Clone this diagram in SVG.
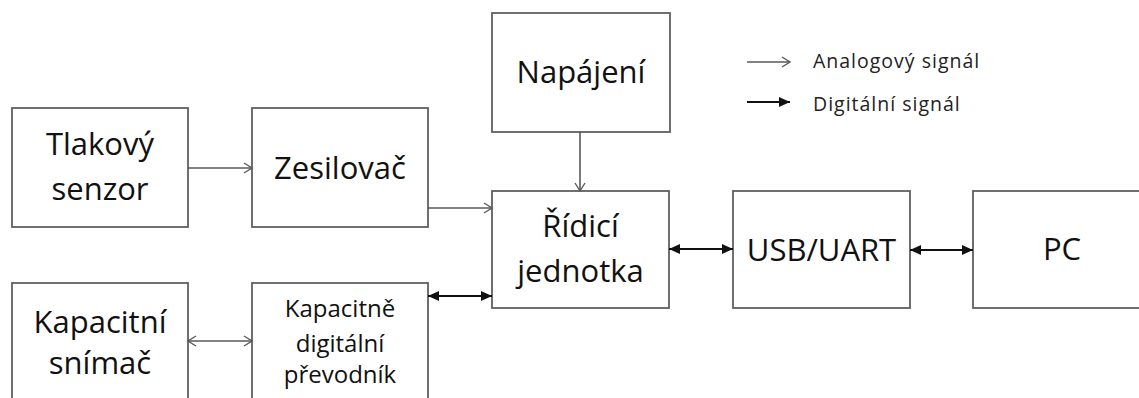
<svg xmlns="http://www.w3.org/2000/svg" width="1139" height="398" viewBox="0 0 1139 398">
<style>
.box{fill:#fff;stroke:#606060;stroke-width:1.8}
.t{font-family:"Open Sans","Noto Sans",sans-serif;font-size:31px;fill:#111;text-anchor:middle}
.ts{font-size:24px}
.lg{font-family:"Open Sans","Noto Sans",sans-serif;font-size:19.5px;fill:#222;letter-spacing:1px}
.an{stroke:#595959;stroke-width:1.6;fill:none}
.dg{stroke:#111;stroke-width:2;fill:none}
</style>
<defs>
<marker id="ao" markerUnits="userSpaceOnUse" markerWidth="12" markerHeight="14" refX="9" refY="6" orient="auto-start-reverse" viewBox="0 0 12 12">
<path d="M1,1 L9,6 L1,11" fill="none" stroke="#595959" stroke-width="1.4"/>
</marker>
<marker id="df" markerUnits="userSpaceOnUse" markerWidth="12" markerHeight="12" refX="11" refY="5" orient="auto-start-reverse" viewBox="0 0 12 10">
<path d="M0,0 L11,5 L0,10 z" fill="#111"/>
</marker>
</defs>
<g id="tlakovy-senzor"><rect class="box" x="12" y="108" width="176" height="119"/><text class="t" x="100" y="155">Tlakový</text><text class="t" x="100" y="200">senzor</text></g>
<g id="zesilovac"><rect class="box" x="252" y="108" width="176" height="119"/><text class="t" x="340" y="179">Zesilovač</text></g>
<g id="napajeni"><rect class="box" x="492" y="13" width="178" height="119"/><text class="t" x="581" y="83">Napájení</text></g>
<g id="ridici-jednotka"><rect class="box" x="492" y="191" width="177" height="117"/><text class="t" x="580.5" y="237">Řídicí</text><text class="t" x="580.5" y="282">jednotka</text></g>
<g id="usb-uart"><rect class="box" x="733" y="191" width="177" height="117"/><text class="t" x="821.5" y="261">USB/UART</text></g>
<g id="pc"><rect class="box" x="973" y="191" width="180" height="117"/><text class="t" x="1062" y="260">PC</text></g>
<g id="kapacitni-snimac"><rect class="box" x="12" y="283" width="176" height="130"/><text class="t" x="100" y="333">Kapacitní</text><text class="t" x="100" y="374">snímač</text></g>
<g id="kapacitne-digitalni-prevodnik"><rect class="box" x="252" y="283" width="176" height="130"/><text class="t ts" x="340" y="317">Kapacitně</text><text class="t ts" x="340" y="352">digitální</text><text class="t ts" x="340" y="383">převodník</text></g>
<g id="legend">
<line class="an" x1="747" y1="62" x2="790" y2="62" marker-end="url(#ao)"/>
<text class="lg" x="813" y="68">Analogový signál</text>
<line class="dg" x1="747" y1="102" x2="790" y2="102" marker-end="url(#df)"/>
<text class="lg" x="813" y="111">Digitální signál</text>
</g>
<g id="connectors">
<line class="an" x1="188" y1="168" x2="252" y2="168" marker-end="url(#ao)"/>
<line class="an" x1="428" y1="208" x2="492" y2="208" marker-end="url(#ao)"/>
<line class="an" x1="580" y1="132" x2="580" y2="191" marker-end="url(#ao)"/>
<line class="an" x1="188" y1="341" x2="252" y2="341" marker-start="url(#ao)" marker-end="url(#ao)"/>
<line class="dg" x1="428" y1="296" x2="492" y2="296" marker-start="url(#df)" marker-end="url(#df)"/>
<line class="dg" x1="669" y1="249" x2="733" y2="249" marker-start="url(#df)" marker-end="url(#df)"/>
<line class="dg" x1="910" y1="250" x2="973" y2="250" marker-start="url(#df)" marker-end="url(#df)"/>
</g>
</svg>
